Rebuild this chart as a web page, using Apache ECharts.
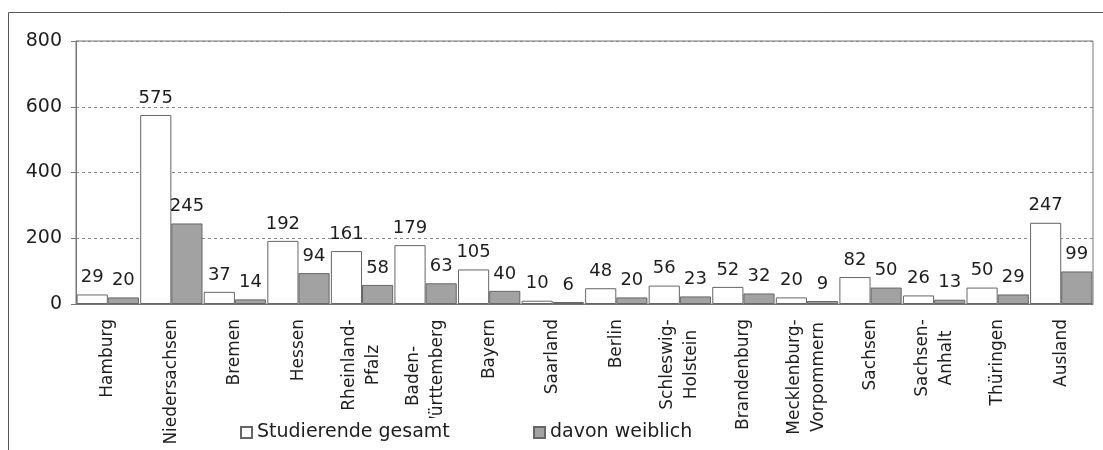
<!DOCTYPE html>
<html lang="de">
  <head>
    <meta charset="UTF-8" />
    <title>Studierende nach Herkunft</title>
    <script src="https://cdn.jsdelivr.net/npm/echarts@6/dist/echarts.min.js"></script>
    <style>
      body { margin: 0; background: #fff; }
      #chart { width: 1103px; height: 450px; }
    </style>
  </head>
  <body>
    <div id="chart"></div>

    <script>
      // Bundesländer (Herkunft der Studierenden)
      var laender = [
        "Hamburg", "Niedersachsen", "Bremen", "Hessen", "Rheinland-\nPfalz",
        "Baden-\nWürttemberg", "Bayern", "Saarland", "Berlin", "Schleswig-\nHolstein",
        "Brandenburg", "Mecklenburg-\nVorpommern", "Sachsen", "Sachsen-\nAnhalt",
        "Thüringen", "Ausland"
      ]
      var gesamt = [29, 575, 37, 192, 161, 179, 105, 10, 48, 56, 52, 20, 82, 26, 50, 247]
      var weiblich = [20, 245, 14, 94, 58, 63, 40, 6, 20, 23, 32, 9, 50, 13, 29, 99]
      var yTicks = [0, 200, 400, 600, 800]

      var font = "DejaVu Sans"
      var mCharts = echarts.init(document.getElementById("chart"))

      // zweizeilige Achsenbeschriftungen: Zeilen zueinander zentrieren
      var ctx = document.createElement("canvas").getContext("2d")
      ctx.font = "17px '" + font + "'"
      var rich = {}
      laender.forEach(function (name, i) {
        var lines = name.split("\n")
        if (lines.length < 2) return
        var w = Math.max.apply(null, lines.map(function (l) { return ctx.measureText(l).width }))
        rich["c" + i] = { width: Math.ceil(w), align: "center", fontSize: 17, fontFamily: font, color: "#1e1e1e", lineHeight: 24 }
      })

      // Legende: zwei Einträge, weiß hinterlegt (verdeckt die Achsenbeschriftung darunter)
      function legendItem(name, left) {
        return {
          left: left, top: 418,
          padding: [5, 5, 5, 5],
          backgroundColor: "#fff",
          itemWidth: 11, itemHeight: 11,
          icon: "rect",
          textStyle: { fontSize: 19, color: "#1e1e1e", fontFamily: font },
          data: [name]
        }
      }

      var option = {
        animation: false,
        textStyle: { fontFamily: font },
        graphic: [
          {
            type: "rect",
            shape: { x: 8.5, y: 12.5, width: 1110, height: 460 },
            style: { fill: "none", stroke: "#555", lineWidth: 1 },
            silent: true
          }
        ],
        grid: {
          left: 76, right: 10, top: 41, bottom: 146,
          show: true, borderColor: "#777", borderWidth: 1
        },
        legend: [
          legendItem("Studierende gesamt", 235),
          legendItem("davon weiblich", 528)
        ],
        xAxis: {
          type: "category",
          data: laender,
          axisLine: { lineStyle: { color: "#777" } },
          axisTick: { length: 6, lineStyle: { color: "#777" } },
          axisLabel: {
            rotate: 90, interval: 0, margin: 15,
            fontSize: 17, color: "#1e1e1e", lineHeight: 24,
            formatter: function (v, i) {
              if (!rich["c" + i]) return v
              return v.split("\n").map(function (l) { return "{c" + i + "|" + l + "}" }).join("\n")
            },
            rich: rich
          }
        },
        yAxis: {
          type: "value",
          min: 0, max: 800, interval: 200,
          axisLine: { show: true, lineStyle: { color: "#777" } },
          axisTick: { show: true, length: 5, lineStyle: { color: "#777" } },
          axisLabel: {
            fontSize: 19, color: "#1e1e1e", margin: 14,
            formatter: function (v) { return yTicks.indexOf(v) >= 0 ? String(v) : "" }
          },
          splitLine: { lineStyle: { color: "#888", type: [3, 3] } }
        },
        series: [
          {
            name: "Studierende gesamt",
            type: "bar",
            data: gesamt,
            barGap: "0%",
            barCategoryGap: "2%",
            itemStyle: { color: "#fff", borderColor: "#666", borderWidth: 1 },
            label: { show: true, position: "top", distance: 8, fontSize: 18, color: "#1e1e1e" }
          },
          {
            name: "davon weiblich",
            type: "bar",
            data: weiblich,
            itemStyle: { color: "#a2a2a2", borderColor: "#666", borderWidth: 1 },
            label: { show: true, position: "top", distance: 8, fontSize: 18, color: "#1e1e1e" }
          }
        ]
      }
      mCharts.setOption(option)
    </script>
  </body>
</html>
